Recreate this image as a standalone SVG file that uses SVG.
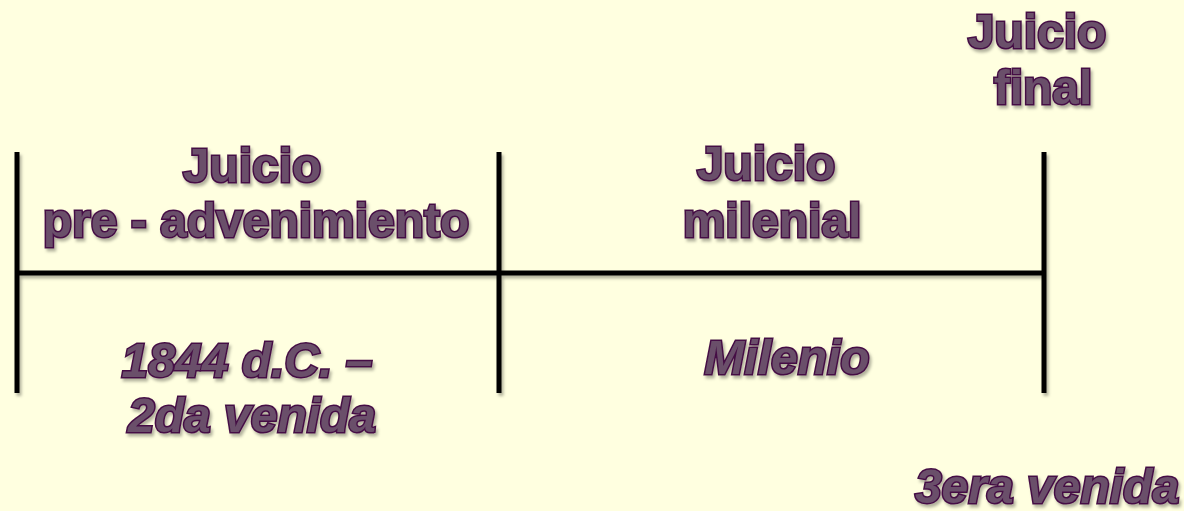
<svg xmlns="http://www.w3.org/2000/svg" width="1184" height="511" viewBox="0 0 1184 511">
  <defs>
    <filter id="sh" x="-10%" y="-20%" width="120%" height="150%">
      <feDropShadow dx="2" dy="3" stdDeviation="1.5" flood-color="#000" flood-opacity="0.3"/>
    </filter>
  </defs>
  <style>
    .t { font-family: "Liberation Sans", Arial, sans-serif; font-weight: bold; font-size: 48px; fill: #6b4f6b; stroke: #450f45; stroke-width: 3; paint-order: stroke fill; text-anchor: middle; filter: url(#sh); }
    .i { font-style: italic; }
    .ln { stroke: #000; stroke-width: 5; fill: none; }
  </style>
  <rect width="1184" height="511" fill="#ffffe0"/>
  <g id="connectors" filter="url(#sh)">
    <line class="ln" x1="17" y1="152" x2="17" y2="393"/>
    <line class="ln" x1="499" y1="152" x2="499" y2="393"/>
    <line class="ln" x1="1044" y1="152" x2="1044" y2="393"/>
    <line class="ln" x1="17" y1="273" x2="1044" y2="273"/>
  </g>
  <g id="juicio-pre">
    <text class="t" x="252" y="182">Juicio</text>
    <text class="t" x="256" y="237">pre - advenimiento</text>
  </g>
  <g id="juicio-milenial">
    <text class="t" x="766" y="180">Juicio</text>
    <text class="t" x="772" y="237">milenial</text>
  </g>
  <g id="juicio-final">
    <text class="t" x="1037" y="48">Juicio</text>
    <text class="t" x="1043" y="104">final</text>
  </g>
  <g id="periodo-1">
    <text class="t i" x="247" y="377">1844 d.C. –</text>
    <text class="t i" x="252" y="432">2da venida</text>
  </g>
  <g id="milenio">
    <text class="t i" x="787" y="374">Milenio</text>
  </g>
  <g id="tercera">
    <text class="t i" x="1047" y="503">3era venida</text>
  </g>
</svg>
